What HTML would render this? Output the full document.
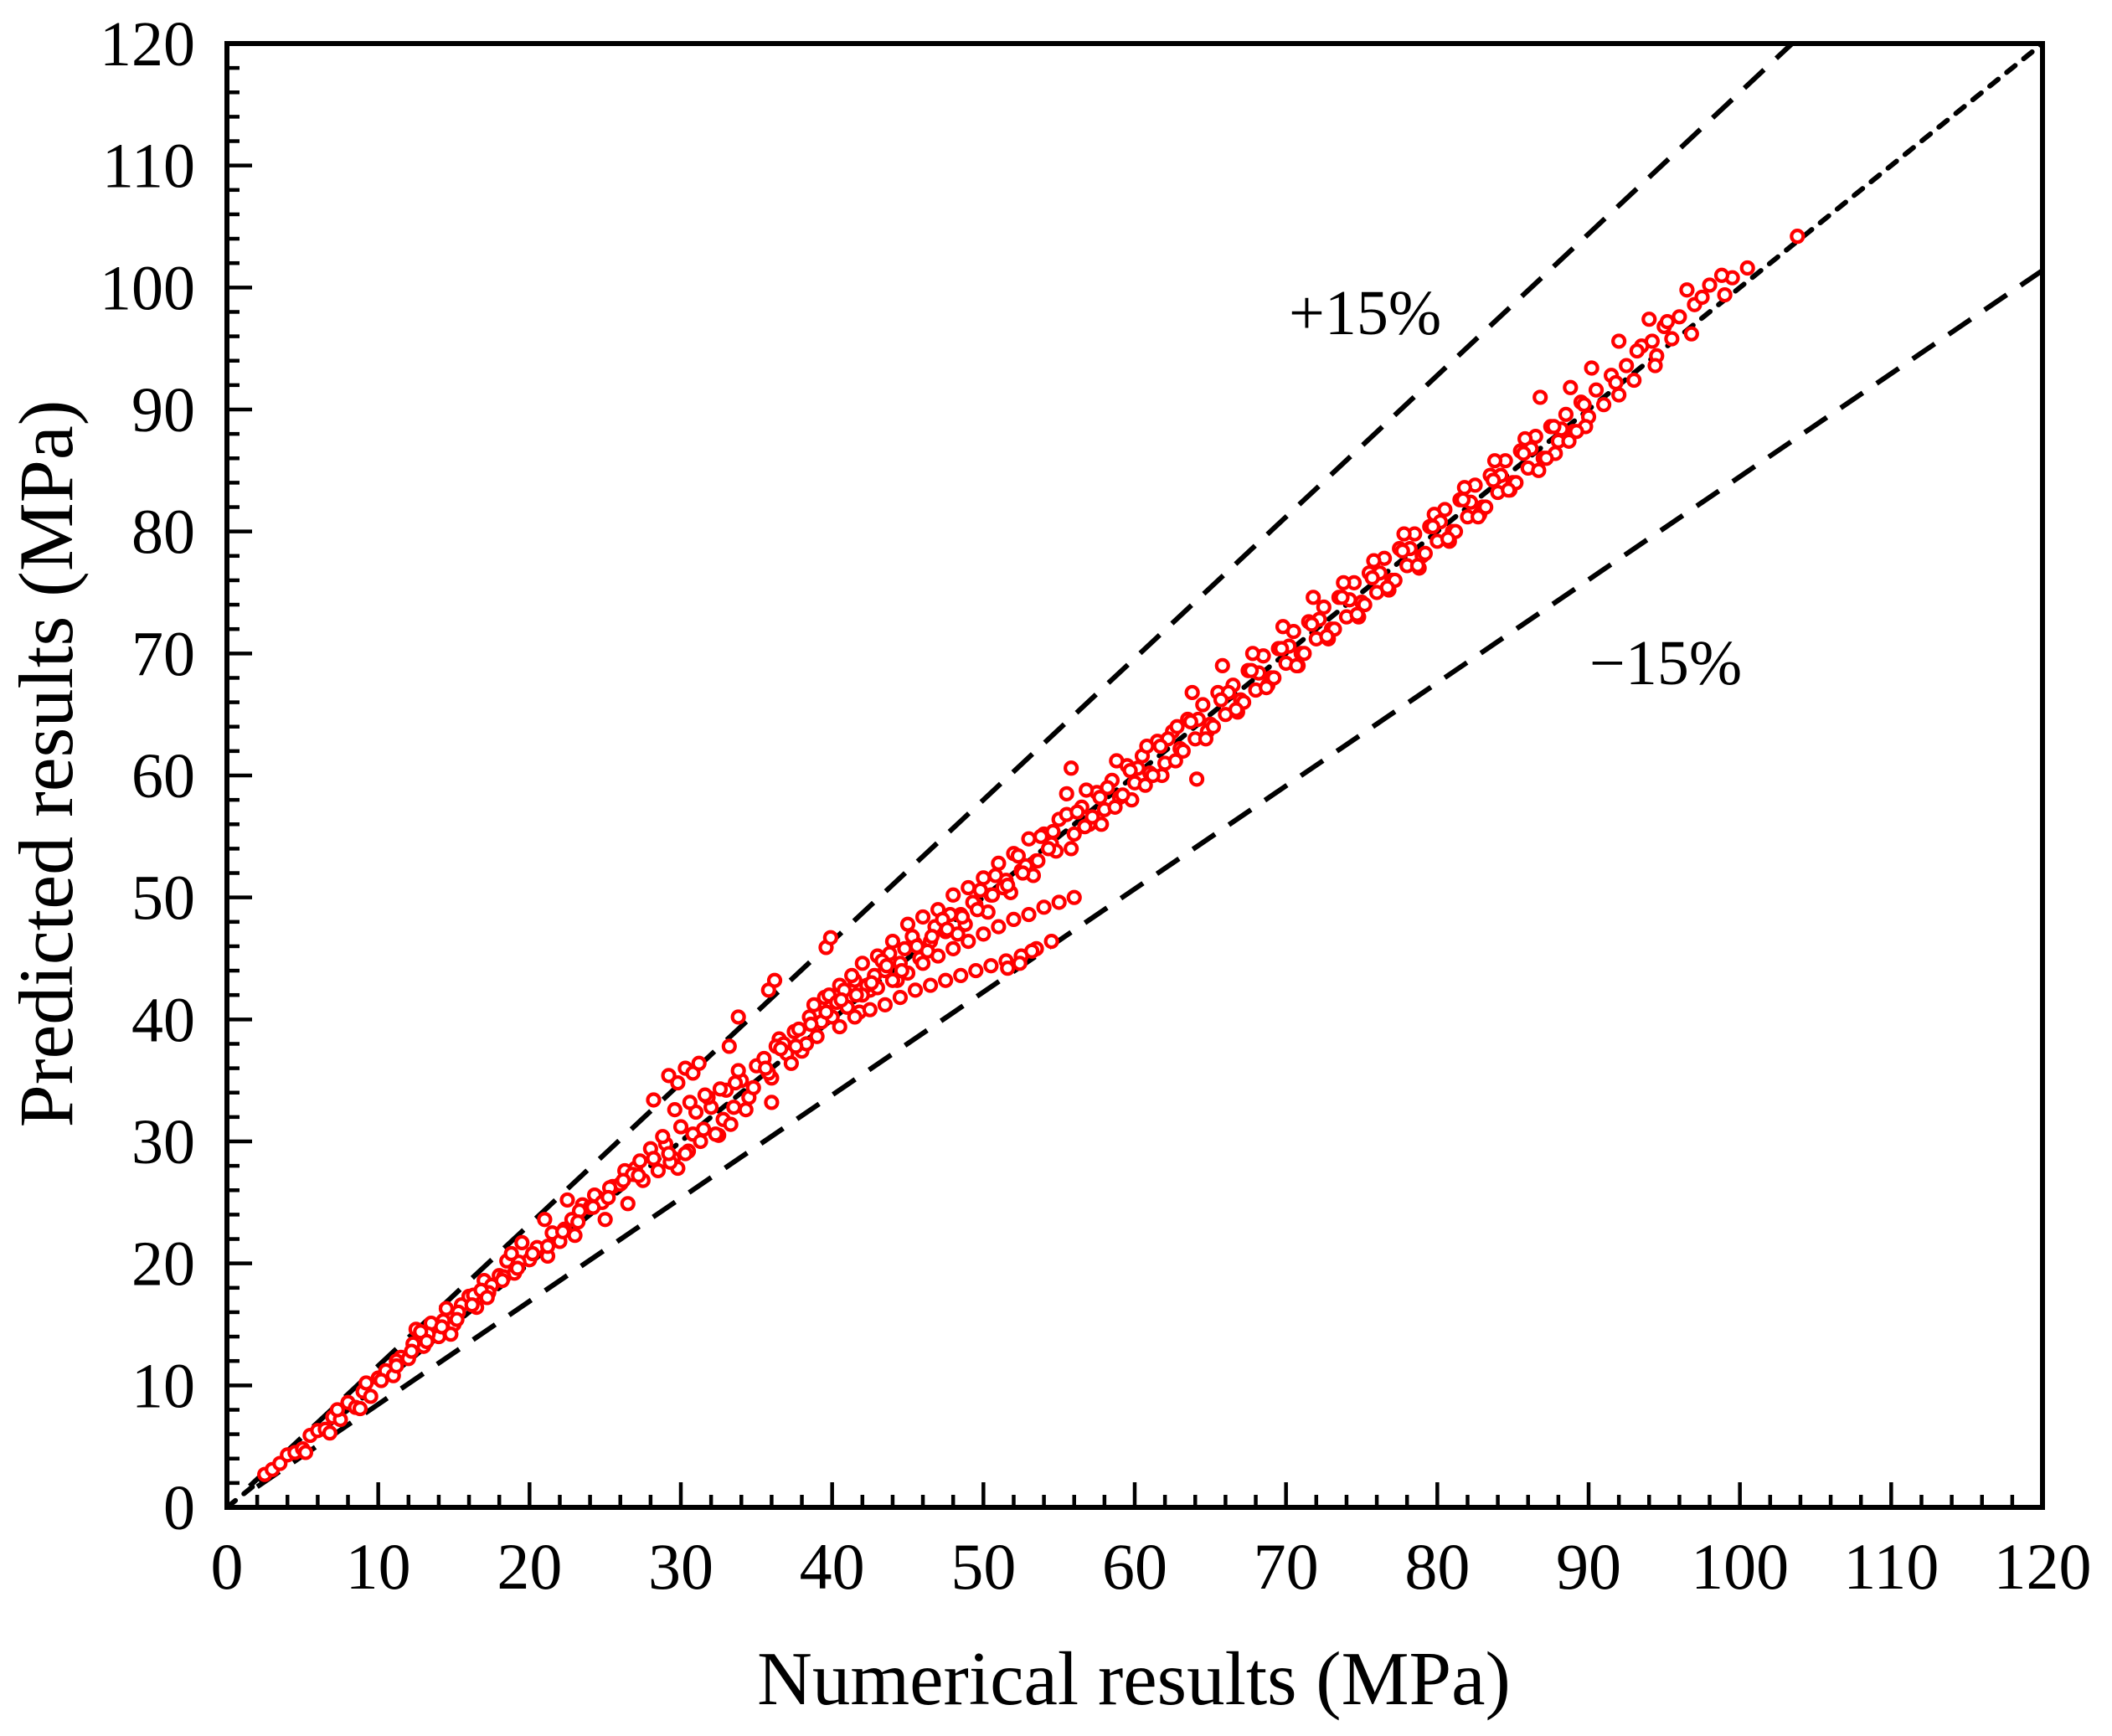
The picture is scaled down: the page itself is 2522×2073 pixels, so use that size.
<!DOCTYPE html>
<html><head><meta charset="utf-8"><style>
html,body{margin:0;padding:0;background:#fff}
svg{display:block}
text{font-family:"Liberation Serif",serif;fill:#000}
</style></head><body>
<svg id="chart" width="2522" height="2073" viewBox="0 0 2522 2073" xmlns="http://www.w3.org/2000/svg">
<g id="grid-lines"></g>
<g id="points"></g>
<g id="axes"></g>
<text x="1354" y="2035" font-size="91" text-anchor="middle">Numerical results (MPa)</text>
<text transform="translate(86,912) rotate(-90)" font-size="92" text-anchor="middle">Predicted results (MPa)</text>
<text x="1539" y="399" font-size="76">+15%</text>
<text x="1898" y="817" font-size="76">−15%</text>
</svg>
<script>
const xTicks=[0,10,20,30,40,50,60,70,80,90,100,110,120];
const yTicks=[0,10,20,30,40,50,60,70,80,90,100,110,120];
const numX=[2.5,3,3.5,4,4.5,5,5.5,6,6.5,7,7.5,8,8.5,9,9.5,10,5.2,6.8,7.3,8.8,9.2,
10.5,11,11.5,12,12.5,13,13.5,14,14.5,15,15.5,16,16.5,17,17.5,18,18.5,19,19.5,20,11.2,12.3,13.3,14.3,15.3,16.3,17.3,18.3,19.3,12.8,14.8,16.8,18.8,
20.5,21,21.5,22,22.5,23,23.5,24,24.5,25,25.5,26,26.5,27,27.5,28,21.2,22.3,23.3,24.3,25.3,26.3,27.3,22.8,24.8,26.8,
28.5,29,29.5,30,30.5,31,31.5,32,32.5,33,33.5,34,34.5,35,28.8,29.8,30.8,31.8,32.8,33.8,34.8,29.3,30.3,31.3,32.3,33.3,34.3,29.6,30.6,31.6,32.6,33.6,
28.2,29.2,29.8,30.3,30.8,31.2,33.2,33.8,35.8,36.2,39.6,39.9,36.0,
35.5,36,36.5,37,37.5,38,38.5,39,39.5,40,40.5,41,41.5,42,42.5,43,43.5,44,44.5,45,45.5,46,46.5,47,47.5,48,48.5,49,49.5,50,50.5,51,51.5,52,52.5,53,53.5,54,54.5,55,
35.8,36.8,37.8,38.8,39.8,40.8,41.8,42.8,43.8,44.8,45.8,46.8,47.8,48.8,49.8,50.8,51.8,52.8,53.8,54.8,
36.3,37.3,38.3,39.3,40.3,41.3,42.3,43.3,44.3,45.3,46.3,47.3,48.3,49.3,50.3,51.3,52.3,53.3,54.3,
40.5,41.5,42.5,43.5,44.5,45.5,46.5,47.5,48.5,49.5,50.5,51.5,52.5,53.5,54.5,
42,43,44,45,46,47,48,49,50,51,52,53,54,55,56,51.6,52.4,53.2,55.8,55.5,
55.5,56,56.5,57,57.5,58,58.5,59,59.5,60,60.5,61,61.5,62,62.5,63,63.5,64,64.5,65,65.5,66,66.5,67,67.5,68,68.5,69,69.5,70,70.5,71,71.5,72,72.5,73,73.5,74,74.5,75,75.5,76,76.5,77,77.5,78,78.5,79,79.5,80,80.5,81,81.5,82,82.5,83,83.5,84,84.5,85,85.5,86,86.5,87,87.5,88,88.5,89,89.5,90,
55.8,56.8,57.8,58.8,59.8,60.8,61.8,62.8,63.8,64.8,65.8,66.8,67.8,68.8,69.8,70.8,71.8,72.8,73.8,74.8,75.8,76.8,77.8,78.8,79.8,80.8,81.8,82.8,83.8,84.8,85.8,86.8,87.8,88.8,89.8,64.1,
90.5,91,91.5,92,92.5,93,93.5,94,94.5,95,95.5,96,96.5,97,97.5,98,99,99.5,100.5,103.8,90.2,91.8,93.2,94.2,95.2,92,94.4,96.8,98.8];
const predY=[2.7,3.1,3.6,4.3,4.5,4.8,5.9,6.3,6.4,7.4,7.2,8.6,8.2,9.5,9.1,10.6,4.5,6.1,8.0,8.1,10.2,
11.2,10.8,12.3,12.2,14.6,13.2,15.1,14.0,16.3,15.0,16.6,17.3,16.4,18.6,18.2,19.0,20.2,19.2,21.7,20.3,12.0,13.4,14.2,15.3,16.0,17.4,17.6,18.9,20.1,14.4,14.2,17.8,20.8,
21.3,23.6,22.5,21.8,25.2,22.3,24.8,24.6,25.4,23.6,26.3,26.5,24.9,27.8,26.8,29.4,20.6,22.8,24.3,25.6,26.2,27.6,28.4,23.6,25.0,27.3,
27.6,29.8,28.6,31.2,29.2,32.4,31.0,32.8,30.5,34.2,32.8,35.0,33.6,36.2,30.4,27.8,30.6,33.6,31.8,35.8,34.4,28.3,29.0,30.0,30.6,31.4,32.6,32.6,33.2,33.8,34.3,34.8,
33.4,35.4,34.8,36.0,35.6,36.4,37.8,40.2,42.4,43.2,45.9,46.7,33.2,
36.8,35.2,38.4,37.2,39.0,37.4,40.2,38.6,41.8,40.2,42.8,41.0,43.2,44.6,42.4,45.2,44.0,46.4,44.6,47.8,46.2,48.4,46.4,49.0,47.2,50.2,48.6,50.8,49.4,51.6,50.2,52.8,51.4,53.6,52.2,54.8,53.0,55.2,54.4,56.4,
35.6,38.0,39.2,41.2,42.0,42.4,40.6,43.6,45.4,45.8,45.0,47.6,48.6,47.8,50.6,51.8,50.4,52.6,55.0,53.8,
37.8,36.4,38.0,39.8,41.4,43.6,42.8,44.8,43.2,46.8,45.6,48.2,47.0,49.6,48.8,50.8,53.4,51.8,54.0,
39.4,40.2,40.8,41.2,41.8,42.4,42.8,43.2,43.6,44.0,44.4,44.8,45.2,45.8,46.4,
42.0,42.6,43.2,43.8,44.6,45.2,45.8,46.4,47.0,47.6,48.2,48.6,49.2,49.6,50.0,44.2,44.6,45.6,60.6,58.5,
56.8,55.2,57.4,56.0,58.6,57.2,59.6,58.2,60.8,59.4,61.6,60.2,62.8,61.0,63.6,62.2,64.6,63.0,65.8,64.2,66.8,65.0,67.4,66.2,68.6,67.0,69.8,68.0,70.4,69.2,71.8,70.0,72.6,71.2,73.8,72.0,74.6,73.0,75.8,74.2,76.6,75.0,77.8,76.0,78.6,77.2,79.8,78.0,80.4,79.2,81.8,80.0,82.6,81.2,83.8,82.0,84.6,83.2,85.8,84.0,86.6,85.2,87.8,86.0,88.6,87.4,89.6,88.2,90.6,89.4,
54.0,58.8,56.0,61.2,58.0,62.4,60.0,64.0,66.8,63.6,69.0,65.2,70.0,67.4,72.2,69.0,74.6,71.2,75.8,73.0,77.6,75.2,79.8,77.0,81.4,79.2,83.6,81.4,85.8,83.4,87.6,91.0,86.4,91.8,88.6,59.7,
91.6,90.4,92.8,95.6,93.6,92.4,95.2,97.4,94.4,96.8,95.8,97.6,99.8,98.6,99.2,100.2,99.4,100.8,101.6,104.2,93.4,92.2,94.8,95.6,97.2,91.2,93.6,96.2,101.0];
const bandX=[56.2,57.2,58.2,59.2,60.2,61.2,62.2,63.2,64.2,65.2,66.2,67.2,68.2,69.2,70.2,71.2,72.2,73.2,74.2,75.2,76.2,77.2,78.2,79.2,80.2,81.2,82.2,83.2,84.2,85.2,86.2,87.2,88.2,89.2,
56.7,57.7,58.7,59.7,60.7,61.7,62.7,63.7,64.7,65.7,66.7,67.7,68.7,69.7,70.7,71.7,72.7,73.7,74.7,75.7,76.7,77.7,78.7,79.7,80.7,81.7,82.7,83.7,84.7,85.7,86.7,87.7,88.7,89.7,
35.6,36.6,37.6,38.6,39.6,40.6,41.6,42.6,43.6,44.6,45.6,46.6,47.6,48.6,49.6,50.6,51.6,52.6,53.6,54.6,
10.2,11.2,12.2,13.2,14.2,15.2,16.2,17.2,18.2,19.2,20.2,21.2,22.2,23.2,24.2,25.2,26.2,27.2,28.2,29.2];
const bandY=[57.0,56.6,59.0,58.4,60.6,60.0,63.0,62.0,64.6,64.0,66.8,66.0,68.4,68.0,70.6,70.0,72.8,72.0,74.4,74.0,76.6,76.0,78.6,78.2,80.8,80.0,82.4,82.0,84.6,84.0,86.8,86.0,88.4,88.2,
55.8,58.2,57.4,60.4,59.2,62.4,61.2,64.4,63.0,66.2,65.4,68.6,67.2,70.4,69.0,72.4,71.4,74.6,73.2,76.2,75.4,78.4,77.2,80.4,79.4,82.6,81.2,84.2,83.4,86.4,85.0,88.6,87.4,90.4,
36.0,37.6,37.8,39.6,40.6,41.6,42.0,43.0,44.4,44.0,46.0,46.8,47.4,48.4,49.0,50.2,51.0,52.0,53.0,55.4,
10.4,11.6,12.8,13.6,14.8,15.4,16.6,17.2,18.6,19.6,20.8,21.4,22.6,23.4,24.6,25.4,26.8,27.2,28.6,29.0];
const upperFactor=1.16, lowerFactor=0.845;

const NS="http://www.w3.org/2000/svg";
const X0=271,X1=2439,Y0=1800,Y1=52,MAX=120;
const sx=v=>X0+v*(X1-X0)/MAX;
const sy=v=>Y0-v*(Y0-Y1)/MAX;
function mk(tag,attrs,parent){const e=document.createElementNS(NS,tag);for(const k in attrs)e.setAttribute(k,attrs[k]);parent.appendChild(e);return e;}

const gl=document.getElementById('grid-lines');
let l=mk('line',{x1:sx(0),y1:sy(0),x2:sx(120),y2:sy(120),stroke:'#000','stroke-width':6,'stroke-dasharray':'13 13','stroke-linecap':'round'},gl);


let ux0=1.5,ux1=MAX/upperFactor;
l=mk('line',{x1:sx(ux0),y1:sy(ux0*upperFactor),x2:sx(ux1),y2:sy(ux1*upperFactor),stroke:'#000','stroke-width':6,'stroke-dasharray':'32 20'},gl);


l=mk('line',{x1:sx(2),y1:sy(2*lowerFactor),x2:sx(MAX),y2:sy(MAX*lowerFactor),stroke:'#000','stroke-width':6,'stroke-dasharray':'32 20'},gl);



const gp=document.getElementById('points');
function drawPts(xs,ys){
  for(let i=0;i<xs.length;i++){
    const c=mk('circle',{cx:sx(xs[i]),cy:sy(ys[i]),r:7,fill:'#fff',stroke:'#ff0000','stroke-width':4.2},gp);
    
    
  }
}
drawPts(numX,predY);
drawPts(bandX,bandY);

const ga=document.getElementById('axes');
const fr=mk('rect',{x:X0,y:Y1,width:X1-X0,height:Y0-Y1,fill:'none',stroke:'#000','stroke-width':6},ga);


for(let v=0;v<=MAX;v+=2){
  const major=v%10===0, len=major?30:15;
  const tx=mk('line',{x1:sx(v),y1:Y0,x2:sx(v),y2:Y0-len,stroke:'#000','stroke-width':4.5},ga);
  
  
  const ty=mk('line',{x1:X0,y1:sy(v),x2:X0+len,y2:sy(v),stroke:'#000','stroke-width':4.5},ga);
  
  
}
xTicks.forEach(v=>{
  const t=mk('text',{x:sx(v),y:1897,'font-size':78,'text-anchor':'middle'},ga);
  t.textContent=v;
  
  
});
yTicks.forEach(v=>{
  const t=mk('text',{x:233,y:sy(v)+26,'font-size':76,'text-anchor':'end'},ga);
  t.textContent=v;
  
  
});
</script>
</body></html>
